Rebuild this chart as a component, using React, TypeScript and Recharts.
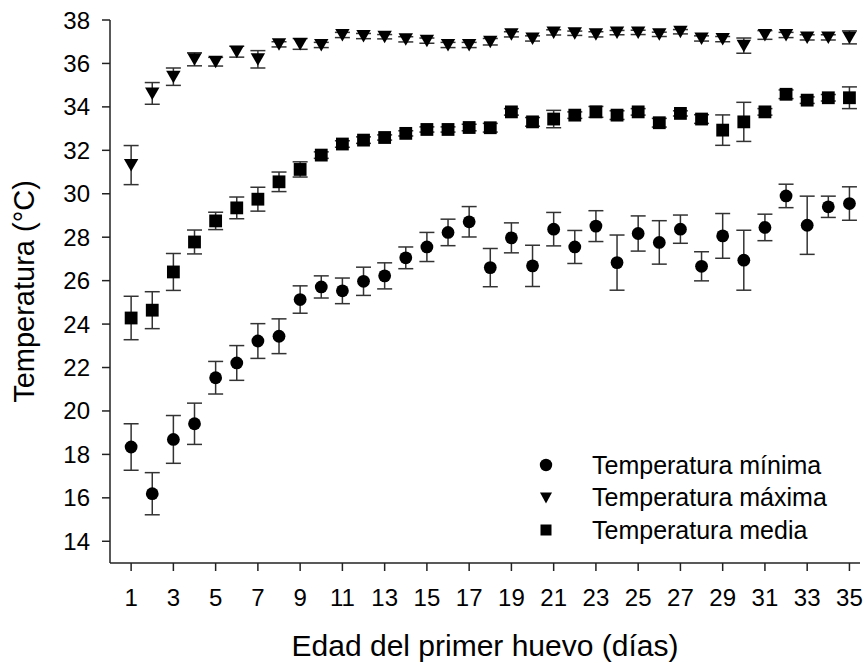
import React from "react";
import {
  ScatterChart,
  Scatter,
  XAxis,
  YAxis,
  ErrorBar,
  Legend,
} from "recharts";

const days = [
  1, 2, 3, 4, 5, 6, 7, 8, 9, 10, 11, 12, 13, 14, 15, 16, 17, 18, 19, 20, 21, 22,
  23, 24, 25, 26, 27, 28, 29, 30, 31, 32, 33, 34, 35,
];

const minVals = [
  18.34, 16.19, 18.69, 19.41, 21.53, 22.21, 23.22, 23.44, 25.13, 25.71, 25.53,
  25.97, 26.22, 27.05, 27.55, 28.22, 28.71, 26.6, 27.97, 26.68, 28.37, 27.55,
  28.51, 26.83, 28.17, 27.76, 28.37, 26.66, 28.06, 26.94, 28.45, 29.9, 28.55,
  29.4, 29.55,
];
const minErr = [
  1.07, 0.97, 1.1, 0.95, 0.75, 0.8, 0.8, 0.8, 0.63, 0.51, 0.59, 0.65, 0.6, 0.5,
  0.67, 0.61, 0.7, 0.88, 0.69, 0.95, 0.77, 0.76, 0.71, 1.27, 0.81, 1.0, 0.65,
  0.67, 1.03, 1.38, 0.61, 0.54, 1.34, 0.49, 0.77,
];

const maxVals = [
  31.32, 34.62, 35.39, 36.19, 36.08, 36.54, 36.19, 36.88, 36.9, 36.85, 37.31,
  37.26, 37.23, 37.11, 37.05, 36.85, 36.85, 37.0, 37.34, 37.15, 37.43, 37.39,
  37.34, 37.42, 37.43, 37.34, 37.46, 37.15, 37.12, 36.82, 37.31, 37.31, 37.2,
  37.2, 37.2,
];
const maxErr = [
  0.9, 0.5, 0.4, 0.3, 0.2, 0.25, 0.4, 0.12, 0.25, 0.12, 0.12, 0.12, 0.1, 0.12,
  0.12, 0.12, 0.12, 0.15, 0.12, 0.12, 0.12, 0.1, 0.12, 0.1, 0.1, 0.1, 0.1, 0.12,
  0.12, 0.35, 0.2, 0.12, 0.12, 0.12, 0.3,
];

const meanVals = [
  24.28, 24.64, 26.4, 27.78, 28.75, 29.35, 29.75, 30.55, 31.12, 31.78, 32.29,
  32.47, 32.59, 32.78, 32.96, 32.96, 33.05, 33.04, 33.77, 33.31, 33.44, 33.62,
  33.77, 33.62, 33.77, 33.27, 33.7, 33.44, 32.93, 33.31, 33.77, 34.58, 34.31,
  34.42, 34.42,
];
const meanErr = [
  1.0, 0.85, 0.85, 0.55, 0.4, 0.5, 0.55, 0.45, 0.35, 0.15, 0.15, 0.15, 0.12,
  0.12, 0.12, 0.12, 0.15, 0.2, 0.15, 0.2, 0.4, 0.15, 0.25, 0.2, 0.15, 0.2, 0.12,
  0.2, 0.7, 0.9, 0.15, 0.2, 0.15, 0.15, 0.5,
];

const xTicks = [1, 3, 5, 7, 9, 11, 13, 15, 17, 19, 21, 23, 25, 27, 29, 31, 33, 35];
const yTicks = [14, 16, 18, 20, 22, 24, 26, 28, 30, 32, 34, 36, 38];

const seriesNames = ["Temperatura mínima", "Temperatura máxima", "Temperatura media"];

const FONT = '"Liberation Sans", Arial, sans-serif';
const AXIS = "#222";
const ERR = "#333";

const toPoints = (vals: number[], errs: number[]) =>
  days.map((d, i) => ({ x: d, y: vals[i], err: errs[i] }));

const minData = toPoints(minVals, minErr);
const maxData = toPoints(maxVals, maxErr);
const meanData = toPoints(meanVals, meanErr);

const CircleDot = (p: any) => <circle cx={p.cx} cy={p.cy} r={6.4} fill="#000" />;
const SquareDot = (p: any) => (
  <rect x={p.cx - 6.4} y={p.cy - 6.4} width={12.8} height={12.8} fill="#000" />
);
const TriDownDot = (p: any) => (
  <path
    d={`M${p.cx - 7.2},${p.cy - 6}L${p.cx + 7.2},${p.cy - 6}L${p.cx},${p.cy + 6.5}Z`}
    fill="#000"
  />
);

// legend icons drawn in a 20x20 box
const legendIcons = [
  <circle cx={10} cy={10} r={6.2} fill="#000" />,
  <path d="M4,4.5L16,4.5L10,15.5Z" fill="#000" />,
  <rect x={4.5} y={4.5} width={11} height={11} fill="#000" />,
];

const renderLegend = () => (
  <div style={{ fontFamily: FONT, fontSize: 25, color: "#000" }}>
    {seriesNames.map((name, i) => (
      <div
        key={name}
        style={{ display: "flex", alignItems: "center", height: 32.5, whiteSpace: "nowrap" }}
      >
        <svg width={20} height={20} style={{ marginRight: 36 }}>
          {legendIcons[i]}
        </svg>
        <span>{name}</span>
      </div>
    ))}
  </div>
);

export default function App() {
  return (
    <div style={{ position: "absolute", left: 0, top: 0, width: 868, height: 663, background: "#fff" }}>
      <ScatterChart
        width={868}
        height={663}
        margin={{ top: 20, right: 8, bottom: 0, left: 0 }}
      >
        <XAxis
          type="number"
          dataKey="x"
          domain={[0, 35.5]}
          ticks={xTicks}
          allowDataOverflow
          height={100}
          tickSize={8}
          tickMargin={18}
          axisLine={{ stroke: AXIS, strokeWidth: 1.5 }}
          tickLine={{ stroke: AXIS, strokeWidth: 1.5 }}
          tick={{ fill: "#000", fontSize: 24, fontFamily: FONT }}
          label={{
            value: "Edad del primer huevo (días)",
            position: "insideBottom",
            offset: 7,
            style: { fill: "#000", fontSize: 30, fontFamily: FONT },
          }}
        />
        <YAxis
          type="number"
          dataKey="y"
          domain={[13, 38]}
          ticks={yTicks}
          allowDataOverflow
          width={110}
          tickSize={8}
          tickMargin={12}
          axisLine={{ stroke: AXIS, strokeWidth: 1.5 }}
          tickLine={{ stroke: AXIS, strokeWidth: 1.5 }}
          tick={{ fill: "#000", fontSize: 24, fontFamily: FONT }}
          label={{
            value: "Temperatura (°C)",
            angle: -90,
            position: "insideLeft",
            offset: 24,
            style: { fill: "#000", fontSize: 29, fontFamily: FONT, textAnchor: "middle" },
          }}
        />
        <Legend
          layout="vertical"
          align="center"
          verticalAlign="middle"
          content={renderLegend}
          wrapperStyle={{ left: 536, top: 449, width: 320 }}
        />
        <Scatter name={seriesNames[0]} data={minData} shape={CircleDot} isAnimationActive={false}>
          <ErrorBar dataKey="err" direction="y" width={7.5} stroke={ERR} strokeWidth={1.5} isAnimationActive={false} />
        </Scatter>
        <Scatter name={seriesNames[1]} data={maxData} shape={TriDownDot} isAnimationActive={false}>
          <ErrorBar dataKey="err" direction="y" width={7.5} stroke={ERR} strokeWidth={1.5} isAnimationActive={false} />
        </Scatter>
        <Scatter name={seriesNames[2]} data={meanData} shape={SquareDot} isAnimationActive={false}>
          <ErrorBar dataKey="err" direction="y" width={7.5} stroke={ERR} strokeWidth={1.5} isAnimationActive={false} />
        </Scatter>
      </ScatterChart>
    </div>
  );
}
